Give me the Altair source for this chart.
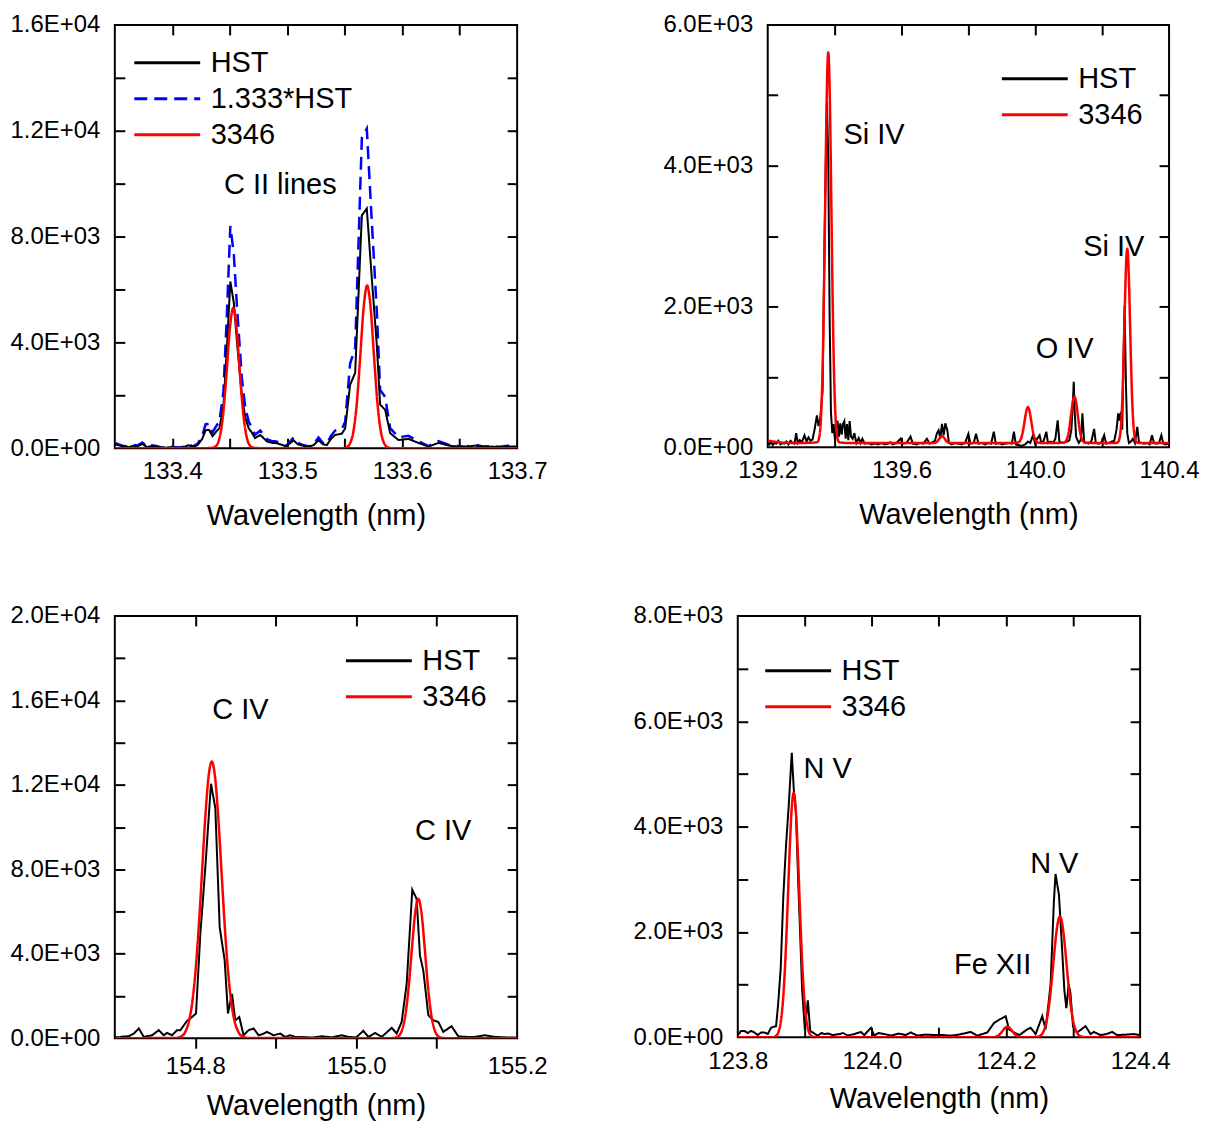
import altair as alt
import pandas as pd

FONT = "Liberation Sans"
HST_FACTOR = 1.333

# ---------------- Panel 1 : C II lines ----------------
p1_hst_wl = [133.350, 133.354, 133.358, 133.362, 133.366, 133.370, 133.374, 133.378, 133.382, 133.386,
             133.390, 133.394, 133.398, 133.402, 133.406, 133.410, 133.414, 133.418, 133.422, 133.426,
             133.429, 133.432, 133.435, 133.438, 133.441, 133.4445, 133.4475, 133.4505, 133.4535, 133.4565,
             133.4605, 133.4635, 133.4665, 133.469, 133.472, 133.4765, 133.4825, 133.487, 133.4895, 133.4955,
             133.499, 133.5055, 133.509, 133.5128, 133.5186, 133.523, 133.5272, 133.531, 133.5345, 133.538,
             133.5417, 133.5475, 133.5504, 133.5547, 133.5591, 133.5649, 133.5692, 133.5736, 133.5779, 133.5808,
             133.5852, 133.5895, 133.5967, 133.6054, 133.6141, 133.6228, 133.6315, 133.6402, 133.6489, 133.655,
             133.6633, 133.670, 133.6778, 133.685, 133.692, 133.700]
p1_hst = [150, 100, 60, 40, 90, 80, 160, 40, 80, 60,
          30, 20, 40, 30, 20, 40, 110, 50, 120, 350,
          680, 690, 450, 620, 760, 1600, 3800, 6300, 5500, 3900,
          2000, 1150, 750, 600, 380, 500, 250, 200, 200, 130,
          60, 300, 150, 100, 50, 120, 300, 150, 120, 350,
          500, 550, 750, 2400, 2850, 8800, 9060, 6400, 3900, 1650,
          1450, 570, 310, 350, 200, 60, 200, 100, 60, 40,
          100, 50, 60, 40, 70, 60]
p1_red_wl = [133.350, 133.429, 133.432, 133.435, 133.438, 133.441, 133.444, 133.447, 133.450, 133.453,
             133.456, 133.459, 133.462, 133.465, 133.468, 133.471, 133.474, 133.478, 133.5485, 133.5515,
             133.5545, 133.5575, 133.5605, 133.5635, 133.5665, 133.5695, 133.5725, 133.5755, 133.5785, 133.5815,
             133.5845, 133.5875, 133.5905, 133.700]
p1_red = [0, 0, 5, 15, 80, 370, 1190, 2720, 4490, 5300,
          4490, 2720, 1190, 370, 80, 15, 5, 0, 0, 35,
          170, 620, 1690, 3465, 5330, 6150, 5330, 3465, 1690, 620,
          170, 35, 0, 0]

# ---------------- Panel 2 : Si IV / O IV ----------------
p2_hst_wl = [139.200, 139.205, 139.210, 139.215, 139.220, 139.226, 139.232, 139.238, 139.244, 139.250,
             139.256, 139.262, 139.268, 139.274, 139.280, 139.285, 139.290, 139.296, 139.302, 139.310,
             139.316, 139.322, 139.328, 139.334, 139.340, 139.347, 139.352, 139.357, 139.364, 139.368,
             139.372, 139.377, 139.381, 139.385, 139.389, 139.393, 139.397, 139.401, 139.405, 139.409,
             139.413, 139.417, 139.421, 139.425, 139.429, 139.433, 139.437, 139.441, 139.445, 139.449,
             139.454, 139.459, 139.465, 139.472, 139.478, 139.483, 139.490, 139.500, 139.510, 139.520,
             139.530, 139.540, 139.550, 139.560, 139.566, 139.574, 139.585, 139.597, 139.604, 139.615,
             139.627, 139.634, 139.645, 139.655, 139.665, 139.676, 139.684, 139.693, 139.700, 139.706,
             139.711, 139.716, 139.721, 139.726, 139.731, 139.737, 139.742, 139.750, 139.760, 139.770,
             139.780, 139.790, 139.800, 139.806, 139.816, 139.823, 139.830, 139.840, 139.850, 139.860,
             139.868, 139.876, 139.882, 139.892, 139.900, 139.910, 139.920, 139.930, 139.936, 139.942,
             139.950, 139.960, 139.970, 139.978, 139.985, 139.993, 139.999, 140.006, 140.013, 140.018,
             140.025, 140.033, 140.038, 140.046, 140.053, 140.060, 140.067, 140.072, 140.080, 140.088,
             140.095, 140.102, 140.108, 140.112, 140.115, 140.118, 140.122, 140.130, 140.136, 140.141,
             140.146, 140.152, 140.160, 140.168, 140.176, 140.181, 140.190, 140.198, 140.206, 140.212,
             140.220, 140.228, 140.236, 140.243, 140.248, 140.252, 140.256, 140.260, 140.263, 140.267,
             140.271, 140.275, 140.280, 140.286, 140.292, 140.298, 140.305, 140.310, 140.318, 140.326,
             140.335, 140.342, 140.349, 140.355, 140.362, 140.370, 140.377, 140.383, 140.390, 140.400]
p2_hst = [60, 40, 80, 30, 60, 50, 90, 40, 60, 50,
          80, 40, 90, 60, 50, 200, 60, 100, 70, 170,
          80, 140, 90, 110, 250, 450, 300, 410, 800, 2300,
          3600, 4900, 4100, 1900, 500, 200, 330, 100, 350, 360,
          150, 340, 180, 330, 370, 120, 330, 100, 370, 150,
          120, 200, 60, 130, 60, 120, 50, 60, 40, 50,
          40, 60, 40, 50, 70, 40, 60, 120, 50, 60,
          150, 50, 40, 60, 50, 120, 50, 70, 90, 200,
          240, 120, 330, 170, 340, 240, 60, 40, 60, 50,
          40, 60, 190, 50, 60, 190, 50, 60, 40, 60,
          50, 220, 50, 60, 40, 50, 60, 50, 220, 40,
          30, 20, 40, 80, 60, 170, 60, 120, 170, 60,
          90, 220, 60, 80, 60, 120, 380, 80, 60, 70,
          80, 100, 250, 600, 930, 500, 150, 60, 100, 480,
          80, 60, 50, 90, 260, 60, 50, 70, 170, 50,
          60, 80, 90, 250, 480, 380, 500, 250, 1100, 2010,
          900, 200, 60, 80, 120, 60, 290, 70, 60, 50,
          60, 40, 170, 60, 50, 60, 170, 50, 40, 50]
p2_red_wl = [139.200, 139.225, 139.255, 139.300, 139.348, 139.354, 139.359, 139.363, 139.366, 139.369,
             139.372, 139.375, 139.378, 139.381, 139.384, 139.387, 139.390, 139.393, 139.396, 139.399,
             139.403, 139.408, 139.414, 139.440, 139.500, 139.600, 139.696, 139.703, 139.709, 139.715,
             139.721, 139.727, 139.733, 139.739, 139.746, 139.800, 139.900, 139.945, 139.952, 139.958,
             139.963, 139.968, 139.973, 139.978, 139.983, 139.988, 139.993, 139.998, 140.004, 140.011,
             140.050, 140.084, 140.091, 140.097, 140.102, 140.107, 140.112, 140.117, 140.122, 140.127,
             140.132, 140.137, 140.143, 140.150, 140.200, 140.242, 140.248, 140.253, 140.257, 140.260,
             140.263, 140.266, 140.269, 140.272, 140.275, 140.278, 140.281, 140.284, 140.287, 140.290,
             140.293, 140.297, 140.302, 140.308, 140.350, 140.400]
p2_red = [95, 75, 62, 60, 70, 140, 400, 915, 1570, 2475,
          3535, 4570, 5330, 5610, 5330, 4570, 3535, 2475, 1570, 915,
          400, 140, 70, 60, 60, 60, 60, 68, 93, 135,
          160, 135, 93, 68, 60, 60, 60, 62, 77, 129,
          226, 370, 510, 570, 510, 370, 226, 129, 77, 62,
          60, 63, 82, 149, 275, 461, 642, 720, 642, 461,
          275, 149, 82, 63, 60, 60, 78, 157, 353, 642,
          1078, 1636, 2213, 2654, 2820, 2654, 2213, 1636, 1078, 642,
          353, 157, 78, 60, 60, 60]

# ---------------- Panel 3 : C IV ----------------
p3_hst_wl = [154.700, 154.705, 154.710, 154.7174, 154.7236, 154.7298, 154.736, 154.741, 154.7463, 154.7546,
             154.7608, 154.7649, 154.7711, 154.7773, 154.7815, 154.7897, 154.7959, 154.8009, 154.8063, 154.8125,
             154.8195, 154.8249, 154.8303, 154.8365, 154.8406, 154.8456, 154.8497, 154.8547, 154.860, 154.8663,
             154.8725, 154.8787, 154.884, 154.889, 154.8973, 154.9055, 154.9117, 154.9179, 154.9242, 154.9324,
             154.945, 154.9572, 154.970, 154.982, 154.9903, 155.000, 155.0089, 155.0151, 155.0234, 155.0317,
             155.0441, 155.0503, 155.0565, 155.0627, 155.0697, 155.0751, 155.0792, 155.0834, 155.0896, 155.0958,
             155.102, 155.1082, 155.1185, 155.1268, 155.1371, 155.1475, 155.1599, 155.1723, 155.185, 155.200]
p3_hst = [60, 40, 80, 90, 220, 460, 60, 100, 140, 380,
          140, 250, 140, 380, 380, 820, 1000, 1170, 4950, 8100,
          12050, 10900, 5260, 3690, 1170, 2100, 850, 1000, 140, 380,
          460, 140, 200, 300, 140, 220, 60, 140, 60, 60,
          30, 90, 40, 140, 60, 40, 350, 60, 250, 60,
          490, 220, 770, 2580, 7030, 6600, 3920, 3200, 1090, 850,
          770, 300, 570, 90, 60, 60, 140, 60, 40, 30]
p3_red_wl = [154.700, 154.7755, 154.7825, 154.7875, 154.7925, 154.7965, 154.8005, 154.8045, 154.8085, 154.8125,
             154.8165, 154.8205, 154.8245, 154.8285, 154.8325, 154.8365, 154.8405, 154.8445, 154.8485, 154.8535,
             154.8585, 154.8655, 155.0412, 155.0472, 155.0522, 155.0572, 155.0612, 155.0652, 155.0692, 155.0732,
             155.0772, 155.0812, 155.0852, 155.0892, 155.0932, 155.0972, 155.1022, 155.1072, 155.1132, 155.200]
p3_red = [0, 12, 87, 299, 861, 1773, 3265, 5385, 7950, 10490,
          12390, 13100, 12390, 10490, 7950, 5385, 3265, 1773, 861, 299,
          87, 12, 0, 13, 87, 415, 1124, 2435, 4237, 5910,
          6600, 5910, 4237, 2435, 1124, 415, 87, 13, 0, 0]

# ---------------- Panel 4 : N V / Fe XII ----------------
p4_hst_wl = [123.800, 123.805, 123.8099, 123.8148, 123.8199, 123.8248, 123.8298, 123.8347, 123.8397, 123.8447,
             123.8496, 123.8571, 123.860, 123.864, 123.868, 123.872, 123.876, 123.8805, 123.884, 123.8868,
             123.890, 123.8933, 123.896, 123.900, 123.9045, 123.908, 123.9117, 123.9191, 123.925, 123.929,
             123.935, 123.9414, 123.9514, 123.957, 123.9638, 123.9737, 123.9836, 123.9886, 123.9985, 124.0035,
             124.010, 124.0184, 124.0283, 124.040, 124.050, 124.0581, 124.068, 124.080, 124.095, 124.1077,
             124.1176, 124.130, 124.1474, 124.1573, 124.1722, 124.1821, 124.1896, 124.1995, 124.2045, 124.2119,
             124.220, 124.2318, 124.2367, 124.2442, 124.2541, 124.2591, 124.2665, 124.2715, 124.2739, 124.279,
             124.284, 124.287, 124.290, 124.2935, 124.296, 124.300, 124.3062, 124.3186, 124.3261, 124.331,
             124.3409, 124.350, 124.3583, 124.3658, 124.380, 124.3906, 124.400]
p4_hst = [40, 120, 120, 80, 120, 90, 40, 90, 90, 60,
          180, 210, 600, 1300, 2700, 3650, 4400, 5400, 4600, 4260,
          3000, 1860, 900, 150, 700, 120, 90, 30, 80, 60,
          70, 40, 60, 80, 30, 60, 100, 40, 180, 30,
          80, 60, 30, 70, 40, 90, 30, 50, 40, 40,
          30, 50, 100, 30, 90, 270, 330, 400, 150, 90,
          40, 150, 180, 60, 400, 150, 1000, 2600, 3100, 2700,
          1600, 900, 550, 1000, 850, 200, 90, 210, 60, 100,
          40, 60, 100, 40, 50, 60, 40]
p4_red_wl = [123.800, 123.8524, 123.8574, 123.8614, 123.8654, 123.8684, 123.8714, 123.8744, 123.8774, 123.8804,
             123.8834, 123.8864, 123.8894, 123.8924, 123.8954, 123.8984, 123.9014, 123.9054, 123.9094, 123.9144,
             124.181, 124.186, 124.190, 124.194, 124.198, 124.202, 124.206, 124.210, 124.214, 124.218,
             124.223, 124.2424, 124.2474, 124.2534, 124.2584, 124.2624, 124.2654, 124.2684, 124.2714, 124.2744,
             124.2774, 124.2804, 124.2834, 124.2864, 124.2894, 124.2924, 124.2954, 124.2984, 124.3024, 124.3074,
             124.3134, 124.3184, 124.400]
p4_red = [0, 0, 30, 127, 418, 871, 1590, 2540, 3550, 4340,
          4640, 4340, 3550, 2540, 1590, 871, 418, 127, 30, 0,
          0, 15, 46, 104, 170, 200, 170, 104, 46, 15,
          0, 0, 9, 56, 194, 438, 727, 1098, 1516, 1905,
          2187, 2290, 2187, 1905, 1516, 1098, 727, 438, 194, 56,
          9, 0, 0]

# ---------------- annotations ----------------
p1_ann_text = ["C II lines"]
p1_ann_x = [133.494]
p1_ann_y = [9960]
p2_ann_text = ["Si IV", "O IV", "Si IV"]
p2_ann_x = [139.518, 140.088, 140.235]
p2_ann_y = [4430, 1400, 2850]
p3_ann_text = ["C IV", "C IV"]
p3_ann_x = [154.856, 155.108]
p3_ann_y = [15560, 9790]
p4_ann_text = ["N V", "N V", "Fe XII"]
p4_ann_x = [123.934, 124.272, 124.180]
p4_ann_y = [5100, 3280, 1365]

# ---------------- axis ticks / labels ----------------
p1_xlabels = [133.4, 133.5, 133.6, 133.7]
p1_xticks = [133.4, 133.45, 133.5, 133.55, 133.6, 133.65]
p1_ylabels = [0, 4000, 8000, 12000, 16000]
p1_yticks = [2000, 4000, 6000, 8000, 10000, 12000, 14000]
p2_xlabels = [139.2, 139.6, 140.0, 140.4]
p2_xticks = [139.4, 139.6, 139.8, 140.0, 140.2]
p2_ylabels = [0, 2000, 4000, 6000]
p2_yticks = [1000, 2000, 3000, 4000, 5000]
p3_xlabels = [154.8, 155.0, 155.2]
p3_xticks = [154.8, 154.9, 155.0, 155.1]
p3_ylabels = [0, 4000, 8000, 12000, 16000, 20000]
p3_yticks = [2000, 4000, 6000, 8000, 10000, 12000, 14000, 16000, 18000]
p4_xlabels = [123.8, 124.0, 124.2, 124.4]
p4_xticks = [123.9, 124.0, 124.1, 124.2, 124.3]
p4_ylabels = [0, 2000, 4000, 6000, 8000]
p4_yticks = [1000, 2000, 3000, 4000, 5000, 6000, 7000]

LABEL_EXPR = ("datum.value == 0 ? '0.0E+00' : "
              "format(datum.value / pow(10, floor(log(datum.value) / LN10 + 1e-6)), '.1f') + 'E+' + "
              "format(floor(log(datum.value) / LN10 + 1e-6), '02d')")

TXT = 29


def panel(hst_wl, hst_val, red_wl, red_val, ann_t, ann_x, ann_y,
          xdom, ydom, xlab, xtk, ylab, ytk, leg_x, leg_y,
          w, h, blue=False, xlab_pad=11, title_pad=18, bottom_out=False):
    hst_df = pd.DataFrame({"wl": hst_wl, "val": hst_val, "series": "HST"})
    red_df = pd.DataFrame({"wl": red_wl, "val": red_val, "series": "3346"})
    ann_df = pd.DataFrame({"wl": ann_x, "val": ann_y, "label": ann_t})
    if blue:
        dom = ["HST", "1.333*HST", "3346"]
        cols = ["#000000", "#0000ff", "#ff0000"]
        dashes = [[1, 0], [13, 7], [1, 0]]
    else:
        dom = ["HST", "3346"]
        cols = ["#000000", "#ff0000"]
        dashes = [[1, 0], [1, 0]]
    leg = alt.Legend(title=None, orient="none", legendX=leg_x, legendY=leg_y,
                     symbolType="stroke", symbolSize=4356, symbolStrokeWidth=3,
                     labelFontSize=TXT, labelFont=FONT, labelColor="black",
                     labelOffset=9, clipHeight=36, rowPadding=0, padding=0)
    color = alt.Color("series:N", scale=alt.Scale(domain=dom, range=cols), legend=leg)
    dash = alt.StrokeDash("series:N", scale=alt.Scale(domain=dom, range=dashes), legend=leg)
    xs = alt.Scale(domain=xdom, nice=False, zero=False)
    ys = alt.Scale(domain=ydom, nice=False, zero=False)

    x_none = alt.X("wl:Q", scale=xs, axis=None)
    y_none = alt.Y("val:Q", scale=ys, axis=None)

    x_main = alt.X("wl:Q", scale=xs, axis=alt.Axis(
        orient="bottom", values=xlab, format=".1f", labelFontSize=24, labelFont=FONT,
        labelColor="black", labelPadding=xlab_pad, labelFlush=False, labelOverlap=False,
        ticks=False, tickSize=0, domain=False, grid=False, title="Wavelength (nm)",
        titleFontSize=TXT, titleFont=FONT, titleFontWeight="normal", titleColor="black",
        titlePadding=title_pad))
    y_main = alt.Y("val:Q", scale=ys, axis=alt.Axis(
        orient="left", values=ylab, labelExpr=LABEL_EXPR, labelFontSize=24, labelFont=FONT,
        labelColor="black", labelPadding=15, labelFlush=False, labelOverlap=False,
        ticks=False, tickSize=0, domain=False, grid=False, title=None))

    def tick_ax(orient, vals, offset):
        return alt.Axis(orient=orient, values=vals, offset=offset, labels=False, domain=False,
                        ticks=True, tickSize=10, tickWidth=2, tickColor="black", grid=False,
                        title=None, minExtent=0, maxExtent=0)

    layers = []
    if blue:
        layers.append(
            alt.Chart(hst_df).transform_calculate(
                val=f"datum.val * {HST_FACTOR}", series="'1.333*HST'"
            ).mark_line(strokeWidth=2.5, clip=True).encode(
                x=x_none, y=y_none, color=color, strokeDash=dash)
        )
    layers.append(alt.Chart(hst_df).mark_line(strokeWidth=2, clip=True).encode(
        x=x_main, y=y_main, color=color, strokeDash=dash))
    layers.append(alt.Chart(red_df).mark_line(strokeWidth=2.5, clip=True, interpolate="monotone").encode(
        x=x_none, y=y_none, color=color, strokeDash=dash))
    layers.append(alt.Chart(ann_df).mark_text(fontSize=TXT, font=FONT, color="black").encode(
        x=x_none, y=y_none, text="label:N"))
    layers.append(alt.Chart(hst_df).mark_line(strokeOpacity=0, clip=True).encode(
        x=alt.X("wl:Q", scale=xs, axis=tick_ax("bottom", xtk, 0 if bottom_out else -10)),
        y=alt.Y("val:Q", scale=ys, axis=tick_ax("left", ytk, -10))))
    layers.append(alt.Chart(hst_df).mark_line(strokeOpacity=0, clip=True).encode(
        x=alt.X("wl:Q", scale=xs, axis=tick_ax("top", xtk, -10)),
        y=alt.Y("val:Q", scale=ys, axis=tick_ax("right", ytk, -10))))
    return alt.layer(*layers).resolve_scale(x="independent", y="independent").resolve_axis(
        x="independent", y="independent").properties(width=w, height=h)


p1 = panel(p1_hst_wl, p1_hst, p1_red_wl, p1_red, p1_ann_text, p1_ann_x, p1_ann_y,
           [133.35, 133.7], [0, 16000], p1_xlabels, p1_xticks, p1_ylabels, p1_yticks,
           18, 20, 403, 424, blue=True, xlab_pad=11, title_pad=18)
p2 = panel(p2_hst_wl, p2_hst, p2_red_wl, p2_red, p2_ann_text, p2_ann_x, p2_ann_y,
           [139.2, 140.4], [0, 6000], p2_xlabels, p2_xticks, p2_ylabels, p2_yticks,
           233, 36, 402, 423, xlab_pad=11, title_pad=18)
p3 = panel(p3_hst_wl, p3_hst, p3_red_wl, p3_red, p3_ann_text, p3_ann_x, p3_ann_y,
           [154.7, 155.2], [0, 20000], p3_xlabels, p3_xticks, p3_ylabels, p3_yticks,
           230, 27, 403, 423, xlab_pad=16, title_pad=13, bottom_out=True)
p4 = panel(p4_hst_wl, p4_hst, p4_red_wl, p4_red, p4_ann_text, p4_ann_x, p4_ann_y,
           [123.8, 124.4], [0, 8000], p4_xlabels, p4_xticks, p4_ylabels, p4_yticks,
           26, 37, 403, 422, xlab_pad=12, title_pad=11)

row1 = alt.hconcat(p1, p2, spacing=112).resolve_scale(
    color="independent", strokeDash="independent").resolve_legend(
    color="independent", strokeDash="independent")
row2 = alt.hconcat(p3, p4, spacing=82).resolve_scale(
    color="independent", strokeDash="independent").resolve_legend(
    color="independent", strokeDash="independent")

chart = alt.vconcat(row1, row2, spacing=72).resolve_scale(
    color="independent", strokeDash="independent").resolve_legend(
    color="independent", strokeDash="independent").properties(
    padding={"left": 0, "top": 3, "right": 0, "bottom": 0}
).configure_view(stroke="black", strokeWidth=2).configure_axis(
    grid=False, labelFont=FONT, titleFont=FONT)

chart.save("out.html", embed_options={"renderer": "svg", "actions": False})
